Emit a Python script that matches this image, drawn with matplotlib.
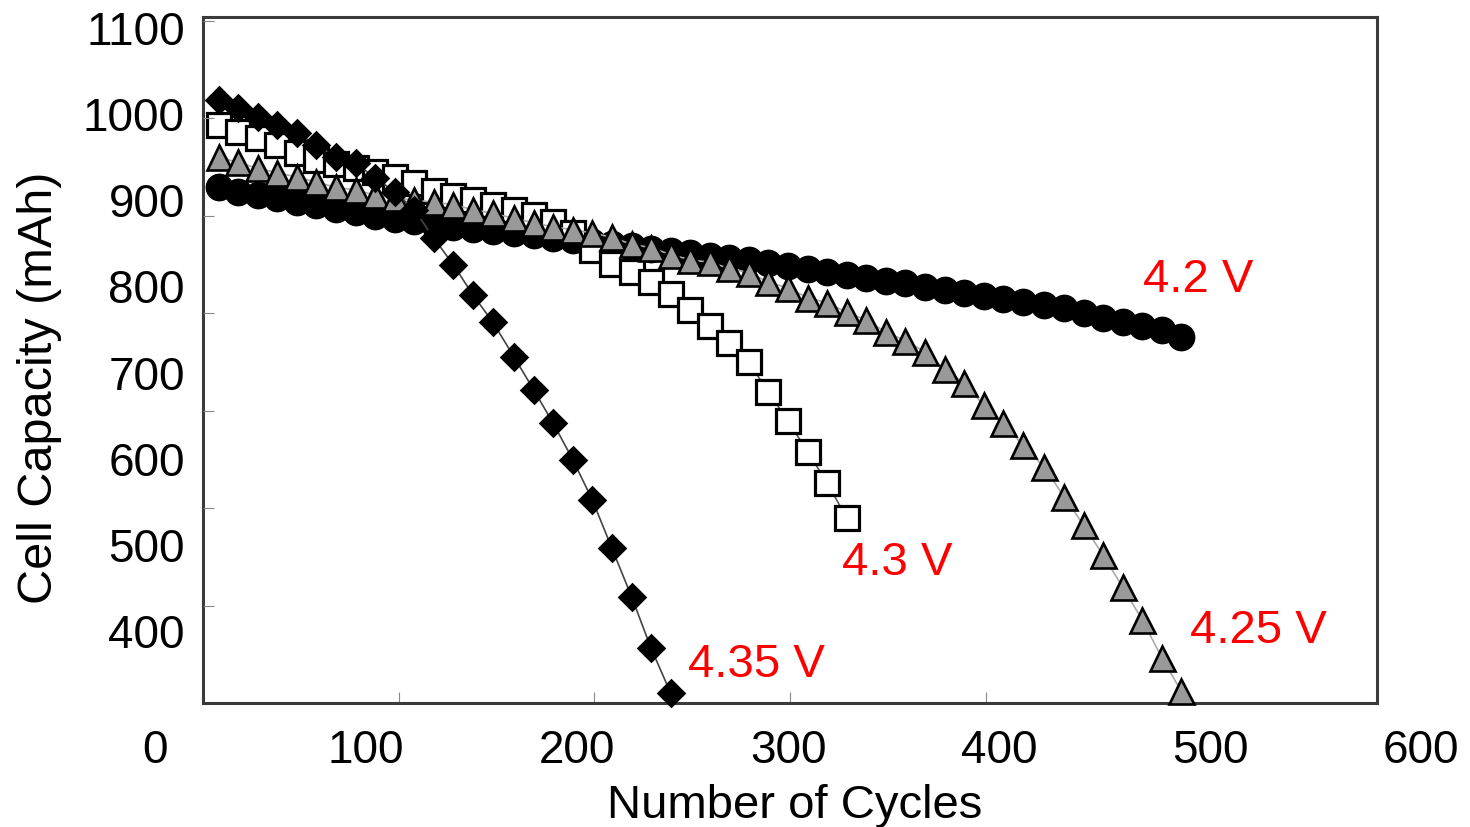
import matplotlib
matplotlib.use("Agg")
import matplotlib.pyplot as plt

plt.rcParams['font.family'] = ['Liberation Sans', 'DejaVu Sans']

# cycle numbers at which capacity was recorded (shared by all series)
cycles = [8, 18, 28, 38, 48, 58, 68, 78, 88, 98,
          108, 118, 128, 138, 148, 159, 169, 179, 189, 199,
          209, 219, 229, 239, 249, 259, 269, 279, 289, 299,
          309, 319, 329, 339, 349, 359, 369, 379, 389, 399,
          409, 419, 430, 440, 450, 460, 470, 480, 490, 500]

cap_42 = [915, 910, 906, 903, 898, 895, 890, 886, 882, 878,
          876, 872, 869, 867, 864, 862, 860, 856, 854, 852,
          849, 847, 843, 841, 839, 835, 833, 831, 827, 824,
          820, 817, 813, 810, 806, 804, 799, 796, 792, 789,
          785, 782, 778, 775, 769, 763, 759, 754, 749, 741]

cap_425 = [950, 944, 937, 932, 927, 921, 915, 912, 906, 903,
           900, 898, 895, 889, 885, 879, 874, 869, 866, 862,
           857, 849, 845, 837, 831, 828, 821, 816, 805, 798,
           787, 781, 770, 761, 747, 737, 724, 704, 688, 662,
           641, 616, 590, 556, 523, 488, 451, 413, 369, 330]

cap_43 = [987, 979, 972, 964, 955, 947, 942, 938, 933, 927,
          920, 911, 905, 900, 895, 889, 883, 875, 862, 842,
          826, 817, 805, 791, 773, 754, 734, 712, 677, 644,
          608, 572, 531]

cap_435 = [1016, 1007, 997, 987, 978, 964, 950, 943, 926, 910,
           889, 856, 825, 790, 759, 718, 680, 641, 599, 552,
           496, 440, 380, 328]

x_tick_labels = [0, 100, 200, 300, 400, 500, 600]
y_tick_labels = [400, 500, 600, 700, 800, 900, 1000, 1100]

W, H = 1470, 827
RED = "#ff0000"
FS = 33


def px_box(left, top, right, bottom):
    return [left / W, 1 - bottom / H, (right - left) / W, (bottom - top) / H]


fig = plt.figure(figsize=(W / 100, H / 100), dpi=100)

# main data axes
ax = fig.add_axes(px_box(203, 17, 1377, 703))
ax.set_xlim(0, 600)
ax.set_ylim(316.4, 1112.8)
for sp in ax.spines.values():
    sp.set_color("#3a3a3a")
    sp.set_linewidth(2.2)
ax.set_xticks([100, 200, 300, 400, 500])
ax.tick_params(axis="x", direction="in", length=8, width=0.8, color="#888888",
               labelbottom=False)
ax.set_yticks(y_tick_labels)
ax.set_yticklabels([str(v) for v in y_tick_labels], fontsize=FS)
ax.tick_params(axis="y", length=0, pad=13)

ax.plot(cycles[:len(cap_42)], cap_42, color="#222222", lw=1,
        marker="o", ms=19, mfc="black", mec="black", clip_on=False, zorder=3)
ax.plot(cycles[:len(cap_43)], cap_43, color="#555555", lw=1.2,
        marker="s", ms=17.5, mfc="white", mec="black", mew=2.3, clip_on=False, zorder=4)
ax.plot(cycles[:len(cap_425)], cap_425, color="#aaaaaa", lw=1.2,
        marker="^", ms=18, mfc="#999999", mec="black", mew=1.9, clip_on=False, zorder=5)
ax.plot(cycles[:len(cap_435)], cap_435, color="#444444", lw=1.2,
        marker="D", ms=13.5, mfc="black", mec="black", mew=1.8, clip_on=False, zorder=6)

# voltage annotations
ax.text(480.4, 793.5, "4.2 V", color=RED, fontsize=FS + 1, va="baseline")
ax.text(326.6, 465, "4.3 V", color=RED, fontsize=FS + 1, va="baseline")
ax.text(504.4, 386, "4.25 V", color=RED, fontsize=FS + 1, va="baseline")
ax.text(247.9, 346.6, "4.35 V", color=RED, fontsize=FS + 1, va="baseline")

# inner y tick marks from the original capacity grid
tick_ax = fig.add_axes(px_box(203, 17, 1377, 703), facecolor="none")
tick_ax.set_ylim(300, 1003.6)
tick_ax.set_yticks([400, 500, 600, 700, 800, 900, 1000])
tick_ax.set_xticks([])
tick_ax.tick_params(axis="y", direction="in", length=8, width=0.8, color="#888888",
                    labelleft=False)
for sp in tick_ax.spines.values():
    sp.set_visible(False)

# x tick labels (spread wider than the frame)
lab_ax = fig.add_axes(px_box(155, 702.5, 1421, 703), facecolor="none")
lab_ax.set_xlim(0, 600)
lab_ax.set_xticks(x_tick_labels)
lab_ax.set_xticklabels([str(v) for v in x_tick_labels], fontsize=FS)
lab_ax.tick_params(axis="x", length=0, pad=19)
lab_ax.set_yticks([])
for sp in lab_ax.spines.values():
    sp.set_visible(False)

fig.text(795 / W, 1 - 818 / H, "Number of Cycles", fontsize=FS + 1,
         ha="center", va="baseline")
fig.text(40 / W, 1 - 388 / H, "Cell Capacity (mAh)", fontsize=FS + 2,
         ha="center", va="center", rotation=90)

fig.savefig("out.png", dpi=100)
plt.close(fig)
